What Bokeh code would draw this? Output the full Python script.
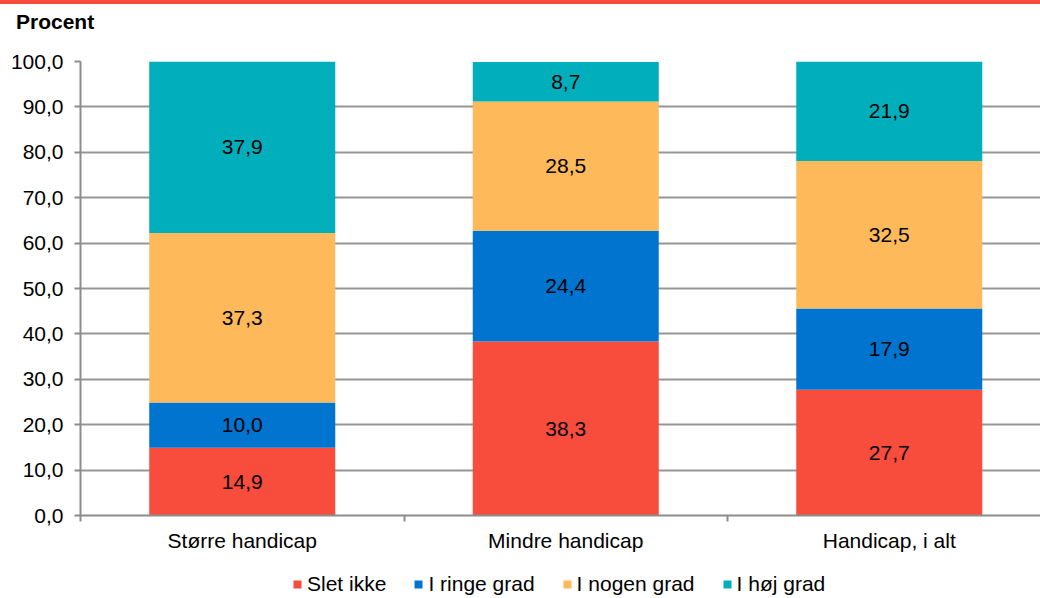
from bokeh.plotting import figure
from bokeh.models import ColumnDataSource, FixedTicker, Legend, LegendItem, Div
from bokeh.layouts import column
from bokeh.core.properties import value
from bokeh.embed import file_html
from bokeh.resources import INLINE

# ---- data ----
categories = ["Større handicap", "Mindre handicap", "Handicap, i alt"]
series_names = ["Slet ikke", "I ringe grad", "I nogen grad", "I høj grad"]
slet_ikke = [14.9, 38.3, 27.7]
i_ringe_grad = [10.0, 24.4, 17.9]
i_nogen_grad = [37.3, 28.5, 32.5]
i_hoej_grad = [37.9, 8.7, 21.9]
y_ticks = [0, 10, 20, 30, 40, 50, 60, 70, 80, 90, 100]
y_label = "Procent"

colors = ["#F84C3C", "#0074CF", "#FDB95A", "#00AFBB"]
FONT = "Liberation Sans"
FS = "21px"

series = [slet_ikke, i_ringe_grad, i_nogen_grad, i_hoej_grad]
keys = ["s0", "s1", "s2", "s3"]
xs = [i + 0.5 for i in range(len(categories))]
data = {"x": xs}
for k, s in zip(keys, series):
    data[k] = s
src = ColumnDataSource(data)

W = 1040
H = 528
p = figure(width=W, height=H, output_backend="svg", toolbar_location=None,
           x_range=(0, 2.9675), y_range=(0, 100),
           min_border_left=80, min_border_right=0, min_border_top=27, min_border_bottom=47)
p.outline_line_color = None
p.background_fill_color = "white"
p.border_fill_color = "white"

renderers = p.vbar_stack(keys, x="x", width=0.575, color=colors, line_color=None, source=src)

# data labels
lx, ly, lt = [], [], []
for i in range(len(categories)):
    base = 0.0
    for s in series:
        v = s[i]
        lx.append(xs[i])
        ly.append(min(base + v / 2, 100))
        lt.append(f"{v:.1f}".replace(".", ","))
        base += v
p.text(x=lx, y=ly, text=lt, text_align="center", text_baseline="middle",
       text_font=value(FONT), text_font_size=FS, text_color="#000000")

# grid
p.xgrid.visible = False
p.ygrid.ticker = FixedTicker(ticks=y_ticks)
p.ygrid.grid_line_color = "#969696"
p.ygrid.grid_line_width = 2

# y axis
ya = p.yaxis[0]
ya.ticker = FixedTicker(ticks=y_ticks)
ya.major_label_overrides = {t: f"{t:.1f}".replace(".", ",") for t in y_ticks}
ya.axis_line_color = "#8C8C8C"
ya.axis_line_width = 2
ya.major_tick_line_color = "#8C8C8C"
ya.major_tick_line_width = 2
ya.major_tick_out = 6
ya.major_tick_in = 0
ya.minor_tick_line_color = None
ya.major_label_standoff = 11
ya.major_label_text_font = FONT
ya.major_label_text_font_size = FS
ya.major_label_text_color = "#000000"

# x axis
xa = p.xaxis[0]
xa.ticker = FixedTicker(ticks=xs, minor_ticks=list(range(len(categories) + 1)))
xa.major_label_overrides = {x: c for x, c in zip(xs, categories)}
xa.axis_line_color = "#8C8C8C"
xa.axis_line_width = 2
xa.major_tick_line_color = None
xa.major_tick_out = 0
xa.major_tick_in = 0
xa.minor_tick_line_color = "#8C8C8C"
xa.minor_tick_line_width = 2
xa.minor_tick_out = 6
xa.minor_tick_in = 0
xa.major_label_standoff = 7
xa.major_label_text_font = FONT
xa.major_label_text_font_size = FS
xa.major_label_text_color = "#000000"

# legend in its own strip below the chart (frame aligned with the chart frame)
lf = figure(width=W, height=36, output_backend="svg", toolbar_location=None,
            x_axis_type=None, y_axis_type=None, x_range=(0, 1), y_range=(0, 1),
            min_border=0)
lf.outline_line_color = None
lf.xgrid.visible = False
lf.ygrid.visible = False
dummies = [lf.vbar(x=[-10], top=[0], width=0.5, color=c, line_color=None) for c in colors]
legend = Legend(items=[LegendItem(label=n, renderers=[r]) for n, r in zip(series_names, dummies)],
                orientation="horizontal", location=(212, 2),
                glyph_width=10, glyph_height=10, label_standoff=5, spacing=27,
                padding=0, margin=0, border_line_color=None, background_fill_alpha=0,
                label_text_font=FONT, label_text_font_size=FS, label_text_color="#000000")
lf.add_layout(legend)

topline = Div(text="", width=W, height=4, margin=0, styles={"background-color": "#F44B3C"})
title_div = Div(text=y_label, width=300, height=24, margin=(6, 0, 0, 16),
                styles={"font-family": FONT, "font-size": FS, "font-weight": "bold",
                        "color": "#000000", "line-height": "24px"})
layout = column(topline, title_div, p, lf, spacing=0)

open("out.html", "w").write(file_html(layout, INLINE))
